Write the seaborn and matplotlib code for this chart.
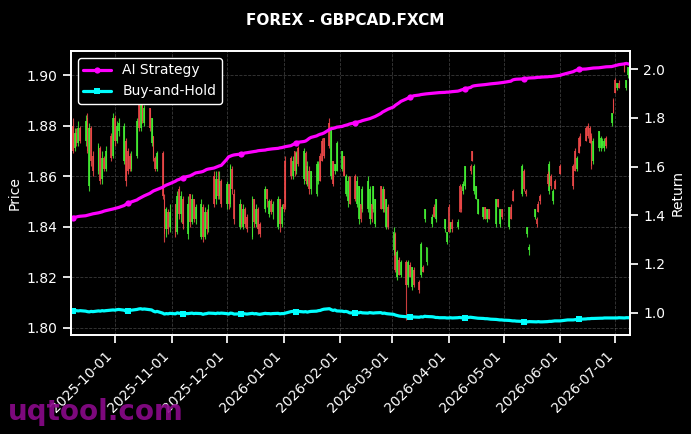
import seaborn as sns
import pandas as pd
import matplotlib.pyplot as plt
import matplotlib.dates as mdates
import numpy as np

nan = np.nan

# business days shown on the chart
dates = pd.bdate_range("2025-09-08", "2026-07-09")

# daily OHLC of GBPCAD (nan = no candle)
opens = [
    1.880, 1.871, 1.877, 1.873, 1.879, 1.874, 1.883, 1.856, 1.879, 1.868, 1.862, 1.871, 1.859, 1.867, 1.863, 1.876, 1.868,
    1.883, 1.874, 1.878, 1.866, 1.874, 1.870, 1.868, 1.863, 1.868, 1.888, 1.879, 1.888, 1.881, 1.887, 1.873, 1.876, 1.867, 1.863, 1.869, 1.851, 1.839, 1.846, 1.840,
    1.849, 1.838, 1.855, 1.845, 1.851, 1.837, 1.853, 1.842, 1.851, 1.843, 1.836, 1.848, 1.836, 1.846, 1.839, 1.860, 1.851, 1.859, 1.852, 1.858,
    1.849, 1.857, 1.849, 1.863, 1.853, 1.840, 1.849, 1.840, 1.847, 1.844, 1.836, 1.851, 1.841, 1.847, 1.841, 1.847, 1.855, 1.845, 1.850, 1.846, 1.840, 1.851, 1.841,
    1.849, 1.866, 1.867, 1.860, 1.870, 1.862, 1.871, 1.859, 1.869, 1.857, 1.862, 1.855, 1.853, 1.858, 1.868, 1.874, 1.875, 1.881, 1.860, 1.866, 1.862, 1.862,
    1.863, 1.868, 1.853, 1.850, 1.860, 1.860, 1.849, 1.843, 1.849, 1.847, 1.847, 1.843, 1.849, 1.847, 1.841, 1.856, 1.847, 1.855, 1.840, 1.848,
    1.831, 1.837, 1.820, 1.827, 1.821, 1.826, 1.817, 1.825, 1.816, 1.823, 1.818, 1.821, 1.824, 1.843, 1.826, 1.841, 1.848, 1.843, nan, nan, 1.839, 1.834,
    1.848, 1.839, 1.842, 1.840, 1.856, 1.854, 1.854, 1.856, 1.864, 1.870, 1.854, 1.851, 1.845, 1.844, 1.848, 1.843, 1.847, nan, 1.841, 1.851, 1.841, 1.847,
    nan, 1.840, 1.848, 1.854, nan, nan, 1.853, 1.862, 1.854, 1.837, 1.831, 1.844, 1.843, 1.849, 1.852, nan, 1.861, 1.854, 1.860, 1.850, 1.858,
    1.864, nan, nan, nan, nan, 1.864, 1.870, 1.863, 1.875, 1.876, 1.879, 1.880, 1.879, 1.876, 1.866, 1.871, 1.871, 1.872, 1.871, 1.875, 1.881, 1.890,
    1.898, 1.895, 1.897, 1.904, 1.895, 1.900, 1.898,
]
highs = [
    1.883, 1.879, 1.879, 1.882, 1.880, 1.884, 1.885, 1.881, 1.880, 1.870, 1.873, 1.872, 1.870, 1.868, 1.872, 1.877, 1.885,
    1.884, 1.882, 1.883, 1.881, 1.875, 1.871, 1.869, 1.870, 1.883, 1.889, 1.890, 1.889, 1.888, 1.887, 1.883, 1.876, 1.868, 1.870, 1.870, 1.853, 1.848, 1.847, 1.849,
    1.849, 1.854, 1.856, 1.854, 1.852, 1.852, 1.853, 1.853, 1.851, 1.849, 1.851, 1.849, 1.848, 1.847, 1.849, 1.862, 1.862, 1.862, 1.862, 1.859,
    1.858, 1.857, 1.865, 1.864, 1.855, 1.851, 1.849, 1.849, 1.848, 1.845, 1.852, 1.851, 1.849, 1.848, 1.842, 1.856, 1.855, 1.851, 1.851, 1.850, 1.852, 1.851, 1.849,
    1.849, 1.868, 1.868, 1.868, 1.870, 1.870, 1.872, 1.871, 1.870, 1.866, 1.864, 1.862, 1.866, 1.866, 1.869, 1.875, 1.875, 1.883, 1.880, 1.866, 1.865, 1.874,
    1.870, 1.868, 1.861, 1.860, 1.860, 1.861, 1.860, 1.856, 1.849, 1.856, 1.860, 1.856, 1.849, 1.856, 1.851, 1.856, 1.856, 1.855, 1.851, 1.849,
    1.840, 1.838, 1.831, 1.828, 1.827, 1.827, 1.827, 1.826, 1.824, 1.824, 1.819, 1.834, 1.825, 1.847, 1.832, 1.845, 1.849, 1.851, nan, nan, 1.843, 1.838,
    1.849, 1.842, 1.843, 1.843, 1.857, 1.856, 1.858, 1.864, 1.865, 1.870, 1.865, 1.856, 1.851, 1.848, 1.848, 1.847, 1.847, nan, 1.851, 1.851, 1.847, 1.847,
    nan, 1.848, 1.849, 1.855, nan, nan, 1.865, 1.863, 1.855, 1.840, 1.833, 1.847, 1.844, 1.850, 1.853, nan, 1.862, 1.866, 1.861, 1.855, 1.859,
    1.865, nan, nan, nan, nan, 1.865, 1.871, 1.868, 1.876, 1.877, 1.880, 1.881, 1.880, 1.877, 1.875, 1.878, 1.876, 1.875, 1.875, 1.876, 1.885, 1.891,
    1.899, 1.897, 1.898, 1.905, 1.898, 1.903, 1.901,
]
lows = [
    1.869, 1.870, 1.872, 1.872, 1.873, 1.872, 1.869, 1.854, 1.864, 1.860, 1.861, 1.857, 1.857, 1.862, 1.862, 1.866, 1.867,
    1.872, 1.873, 1.876, 1.865, 1.856, 1.861, 1.862, 1.862, 1.867, 1.878, 1.878, 1.881, 1.880, 1.878, 1.872, 1.866, 1.862, 1.862, 1.851, 1.834, 1.836, 1.837, 1.838,
    1.836, 1.837, 1.843, 1.842, 1.839, 1.835, 1.840, 1.841, 1.842, 1.841, 1.835, 1.834, 1.835, 1.837, 1.838, 1.848, 1.849, 1.851, 1.851, 1.848,
    1.847, 1.847, 1.848, 1.853, 1.841, 1.839, 1.840, 1.839, 1.840, 1.838, 1.835, 1.840, 1.840, 1.837, 1.836, 1.846, 1.848, 1.844, 1.845, 1.843, 1.839, 1.838, 1.840,
    1.846, 1.847, 1.859, 1.859, 1.860, 1.861, 1.864, 1.857, 1.857, 1.856, 1.853, 1.853, 1.852, 1.857, 1.858, 1.866, 1.867, 1.871, 1.859, 1.856, 1.861, 1.862,
    1.862, 1.860, 1.852, 1.848, 1.849, 1.850, 1.848, 1.841, 1.842, 1.846, 1.846, 1.841, 1.842, 1.846, 1.840, 1.847, 1.846, 1.846, 1.839, 1.839,
    1.829, 1.822, 1.819, 1.821, 1.820, 1.803, 1.816, 1.820, 1.815, 1.816, 1.814, 1.820, 1.822, 1.842, 1.825, 1.840, 1.844, 1.842, nan, nan, 1.838, 1.833,
    1.838, 1.838, 1.838, 1.839, 1.846, 1.846, 1.853, 1.855, 1.861, 1.866, 1.853, 1.851, 1.845, 1.843, 1.843, 1.842, 1.843, nan, 1.840, 1.848, 1.840, 1.843,
    nan, 1.839, 1.843, 1.850, nan, nan, 1.852, 1.854, 1.852, 1.836, 1.829, 1.843, 1.840, 1.846, 1.849, nan, 1.856, 1.853, 1.855, 1.849, 1.855,
    1.861, nan, nan, nan, nan, 1.855, 1.862, 1.862, 1.869, 1.872, 1.874, 1.875, 1.873, 1.863, 1.865, 1.870, 1.870, 1.871, 1.870, 1.871, 1.880, 1.885,
    1.893, 1.894, 1.895, 1.901, 1.894, 1.899, 1.897,
]
closes = [
    1.870, 1.877, 1.873, 1.879, 1.874, 1.882, 1.870, 1.879, 1.866, 1.862, 1.872, 1.858, 1.867, 1.863, 1.870, 1.867, 1.883,
    1.874, 1.880, 1.881, 1.880, 1.858, 1.862, 1.863, 1.868, 1.882, 1.879, 1.888, 1.882, 1.887, 1.879, 1.883, 1.867, 1.863, 1.869, 1.852, 1.837, 1.847, 1.839, 1.846,
    1.838, 1.852, 1.845, 1.852, 1.841, 1.849, 1.842, 1.851, 1.843, 1.848, 1.849, 1.836, 1.846, 1.839, 1.847, 1.849, 1.859, 1.852, 1.858, 1.849,
    1.857, 1.849, 1.864, 1.855, 1.843, 1.849, 1.841, 1.847, 1.841, 1.839, 1.851, 1.842, 1.847, 1.839, 1.837, 1.855, 1.851, 1.850, 1.846, 1.849, 1.851, 1.841, 1.848,
    1.847, 1.848, 1.860, 1.866, 1.862, 1.869, 1.865, 1.870, 1.858, 1.864, 1.855, 1.862, 1.865, 1.865, 1.858, 1.866, 1.868, 1.872, 1.879, 1.857, 1.865, 1.873,
    1.870, 1.860, 1.860, 1.858, 1.849, 1.851, 1.858, 1.856, 1.843, 1.855, 1.858, 1.855, 1.843, 1.856, 1.851, 1.847, 1.855, 1.847, 1.851, 1.840,
    1.838, 1.823, 1.830, 1.821, 1.826, 1.817, 1.826, 1.820, 1.824, 1.817, 1.815, 1.833, 1.822, 1.847, 1.832, 1.844, 1.844, 1.851, nan, nan, 1.843, 1.838,
    1.838, 1.842, 1.839, 1.842, 1.846, 1.847, 1.857, 1.864, 1.862, 1.866, 1.864, 1.856, 1.851, 1.848, 1.843, 1.847, 1.843, nan, 1.851, 1.848, 1.847, 1.844,
    nan, 1.848, 1.843, 1.850, nan, nan, 1.864, 1.855, 1.853, 1.840, 1.832, 1.847, 1.841, 1.846, 1.850, nan, 1.857, 1.865, 1.856, 1.854, 1.855,
    1.861, nan, nan, nan, nan, 1.856, 1.862, 1.867, 1.869, 1.872, 1.874, 1.876, 1.873, 1.864, 1.874, 1.878, 1.875, 1.874, 1.874, 1.872, 1.885, 1.885,
    1.893, 1.897, 1.895, 1.901, 1.898, 1.903, 1.900,
]

# cumulative returns of the two strategies
ai_return = [
    1.390, 1.392, 1.393, 1.395, 1.396, 1.398, 1.400, 1.402, 1.404, 1.406, 1.410, 1.412, 1.414, 1.417, 1.419, 1.424, 1.426,
    1.428, 1.430, 1.432, 1.440, 1.445, 1.450, 1.452, 1.455, 1.463, 1.468, 1.472, 1.476, 1.480, 1.490, 1.495, 1.500, 1.503, 1.506, 1.515, 1.520, 1.524, 1.527, 1.530,
    1.540, 1.545, 1.547, 1.551, 1.555, 1.560, 1.562, 1.566, 1.570, 1.574, 1.578, 1.580, 1.584, 1.588, 1.590, 1.594, 1.597, 1.600, 1.603, 1.605,
    1.630, 1.640, 1.643, 1.646, 1.648, 1.651, 1.653, 1.654, 1.656, 1.657, 1.661, 1.662, 1.663, 1.665, 1.666, 1.668, 1.670, 1.671, 1.672, 1.673, 1.675, 1.677, 1.678,
    1.680, 1.682, 1.686, 1.690, 1.694, 1.697, 1.700, 1.703, 1.705, 1.710, 1.716, 1.720, 1.726, 1.730, 1.733, 1.735, 1.738, 1.752, 1.756, 1.757, 1.759, 1.762,
    1.765, 1.768, 1.770, 1.772, 1.775, 1.780, 1.782, 1.784, 1.786, 1.789, 1.795, 1.797, 1.800, 1.803, 1.806, 1.818, 1.824, 1.828, 1.832, 1.836,
    1.845, 1.852, 1.857, 1.862, 1.868, 1.878, 1.882, 1.885, 1.888, 1.891, 1.894, 1.896, 1.897, 1.898, 1.899, 1.901, 1.902, 1.902, 1.903, 1.904, 1.905, 1.906,
    1.906, 1.907, 1.908, 1.910, 1.912, 1.915, 1.917, 1.920, 1.925, 1.930, 1.932, 1.933, 1.934, 1.936, 1.937, 1.938, 1.939, 1.940, 1.942, 1.943, 1.944, 1.945,
    1.946, 1.950, 1.951, 1.956, 1.958, 1.959, 1.960, 1.961, 1.962, 1.963, 1.964, 1.965, 1.966, 1.967, 1.967, 1.968, 1.969, 1.970, 1.970, 1.971, 1.972,
    1.975, 1.978, 1.980, 1.982, 1.984, 1.990, 1.994, 1.997, 1.999, 2.000, 2.001, 2.002, 2.003, 2.004, 2.005, 2.006, 2.007, 2.008, 2.009, 2.010, 2.011, 2.013,
    2.015, 2.017, 2.019, 2.022, 2.024, 2.022, 2.020,
]
bh_return = [
    1.008, 1.009, 1.008, 1.007, 1.008, 1.006, 1.004, 1.003, 1.005, 1.004, 1.007, 1.006, 1.008, 1.007, 1.008, 1.010, 1.011,
    1.010, 1.012, 1.013, 1.010, 1.006, 1.008, 1.009, 1.010, 1.013, 1.015, 1.016, 1.014, 1.015, 1.012, 1.011, 1.006, 1.003, 1.005, 0.998, 0.994, 0.996, 0.995, 0.997,
    0.995, 0.999, 0.997, 0.998, 0.996, 0.996, 0.997, 0.998, 0.996, 0.997, 0.996, 0.993, 0.995, 0.996, 0.998, 0.997, 0.996, 0.998, 0.997, 0.998,
    0.996, 0.994, 0.998, 0.997, 0.994, 0.995, 0.994, 0.996, 0.995, 0.994, 0.997, 0.995, 0.996, 0.994, 0.993, 0.997, 0.996, 0.996, 0.995, 0.996, 0.997, 0.995, 0.996,
    0.996, 0.998, 1.004, 1.005, 1.003, 1.004, 1.005, 1.003, 1.004, 1.002, 1.004, 1.005, 1.006, 1.008, 1.009, 1.012, 1.014, 1.016, 1.012, 1.009, 1.011, 1.007,
    1.006, 1.004, 1.005, 1.003, 0.999, 0.999, 1.000, 0.999, 1.001, 0.999, 0.998, 1.000, 0.999, 0.998, 0.999, 1.000, 0.997, 0.998, 0.996, 0.995,
    0.993, 0.990, 0.988, 0.986, 0.985, 0.983, 0.984, 0.983, 0.983, 0.982, 0.981, 0.983, 0.982, 0.985, 0.984, 0.983, 0.982, 0.980, 0.980, 0.979, 0.979, 0.978,
    0.978, 0.979, 0.978, 0.979, 0.980, 0.979, 0.978, 0.979, 0.981, 0.980, 0.979, 0.978, 0.977, 0.976, 0.975, 0.975, 0.974, 0.973, 0.972, 0.971, 0.970, 0.970,
    0.969, 0.968, 0.967, 0.966, 0.966, 0.965, 0.964, 0.963, 0.963, 0.962, 0.963, 0.962, 0.962, 0.963, 0.962, 0.962, 0.963, 0.964, 0.964, 0.965, 0.966,
    0.966, 0.967, 0.968, 0.969, 0.970, 0.970, 0.971, 0.972, 0.972, 0.973, 0.974, 0.975, 0.975, 0.976, 0.976, 0.977, 0.977, 0.977, 0.978, 0.978, 0.978, 0.978,
    0.978, 0.978, 0.979, 0.978, 0.979, 0.979, 0.979,
]

df = pd.DataFrame({"date": dates, "open": opens, "high": highs, "low": lows, "close": closes,
                   "ai": ai_return, "bh": bh_return})

sns.set_theme(style="ticks", rc={
    "figure.facecolor": "black", "axes.facecolor": "black", "savefig.facecolor": "black",
    "axes.edgecolor": "white", "axes.labelcolor": "white", "text.color": "white",
    "xtick.color": "white", "ytick.color": "white",
})
plt.rcParams["font.family"] = ["DejaVu Sans"]

fig = plt.figure(figsize=(6.91, 4.34), dpi=100)
ax = fig.add_axes([0.1027, 0.2281, 0.8090, 0.6544])

# candles: wick as a thin line, body as a narrow bar
up = df[df["close"] >= df["open"]]
down = df[df["close"] < df["open"]]
green = "#44ee33"
red = "#ee4848"
for part, col in [(up, green), (down, red)]:
    x = mdates.date2num(part["date"])
    ax.vlines(x, part["low"], part["high"], color=col, lw=0.8, alpha=0.85)
    body = (part["close"] - part["open"]).abs().clip(lower=0.0004)
    ax.bar(x, body, bottom=part[["open", "close"]].min(axis=1), width=1.0, color=col, alpha=0.85, lw=0)

ax.set_ylim(1.7972, 1.9095)
ax.set_ylabel("Price", fontsize=10)
ax.grid(True, ls="--", color="gray", alpha=0.45, lw=0.6)
ax.xaxis.set_major_locator(mdates.MonthLocator())
ax.xaxis.set_major_formatter(mdates.DateFormatter("%Y-%m-%d"))
plt.setp(ax.get_xticklabels(), rotation=45, ha="right", fontsize=10)
ax.tick_params(axis="y", labelsize=10)

ax2 = ax.twinx()
sns.lineplot(data=df, x="date", y="ai", ax=ax2, color="#ff00ff", lw=2.3, marker="o", markersize=4.5,
             markevery=22, markeredgewidth=0, label="AI Strategy")
sns.lineplot(data=df, x="date", y="bh", ax=ax2, color="#00ffff", lw=2.3, marker="s", markersize=4.5,
             markevery=22, markeredgewidth=0, label="Buy-and-Hold")
ax2.set_ylim(0.908, 2.075)
ax2.set_ylabel("Return", fontsize=10)
ax2.set_xlabel("")
ax2.tick_params(axis="y", labelsize=10)
ax2.set_xlim(df["date"].iloc[0] - pd.Timedelta(days=1), df["date"].iloc[-1])
for s in ax2.spines.values():
    s.set_color("white")
leg = ax2.legend(loc="upper left", facecolor="black", edgecolor="white", labelcolor="white", fontsize=10)
leg.get_frame().set_alpha(1)

fig.suptitle("FOREX - GBPCAD.FXCM", fontsize=11, fontweight="bold", color="white", y=0.97)
fig.text(0.012, 0.033, "uqtool.com", fontsize=20, fontweight="bold", color="#8b0a8b", alpha=0.9)

fig.savefig("out.png", dpi=100)
